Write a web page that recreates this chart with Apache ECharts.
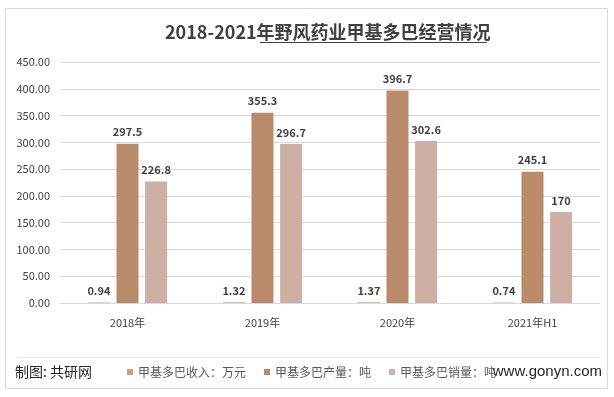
<!DOCTYPE html>
<html>
<head>
<meta charset="utf-8">
<script src="https://cdn.jsdelivr.net/npm/echarts@6/dist/echarts.min.js"></script>
<style>
  html, body { margin: 0; padding: 0; background: #fff; }
  #chart { width: 614px; height: 397px; }
</style>
</head>
<body>
<div id="chart"></div>
<script>
// chart data
var categories = ["2018年", "2019年", "2020年", "2021年H1"];
var seriesNames = ["甲基多巴收入：万元", "甲基多巴产量：吨", "甲基多巴销量：吨"];
var revenue = [0.94, 1.32, 1.37, 0.74];
var output = [297.5, 355.3, 396.7, 245.1];
var sales = [226.8, 296.7, 302.6, 170];
var yTicks = { min: 0, max: 450, interval: 50 };

var fontFamily = "'Microsoft YaHei', 'Noto Sans CJK SC', sans-serif";
var colors = ["#d6a064", "#b98b6a", "#cdafa5"];

var chart = echarts.init(document.getElementById("chart"));

function barSeries(name, data, color) {
  return {
    name: name,
    type: "bar",
    data: data,
    barWidth: 22,
    barGap: "30%",
    itemStyle: { color: color },
    label: {
      show: true,
      position: "top",
      distance: 6,
      fontSize: 11,
      fontWeight: "bold",
      color: "#404040",
      fontFamily: fontFamily
    }
  };
}

var option = {
  backgroundColor: "#fff",
  animation: false,
  textStyle: { fontFamily: fontFamily },
  title: {
    text: "2018-2021年野风药业甲基多巴经营情况",
    left: 160,
    top: 18,
    textStyle: {
      fontSize: 18,
      fontWeight: "bold",
      color: "#404040",
      fontFamily: fontFamily
    }
  },
  grid: { left: 60, right: 14, top: 62, bottom: 94 },
  legend: {
    data: seriesNames,
    left: 122,
    top: 361,
    itemWidth: 6,
    itemHeight: 6,
    itemGap: 18,
    icon: "rect",
    textStyle: { fontSize: 12, color: "#595959", fontFamily: fontFamily }
  },
  xAxis: {
    type: "category",
    data: categories,
    axisLine: { lineStyle: { color: "#d9d9d9" } },
    axisTick: { show: false },
    axisLabel: { margin: 14, fontSize: 11, color: "#404040", fontFamily: fontFamily }
  },
  yAxis: {
    type: "value",
    min: yTicks.min,
    max: yTicks.max,
    interval: yTicks.interval,
    axisLine: { show: false },
    axisTick: { show: false },
    splitLine: { lineStyle: { color: "#d9d9d9" } },
    axisLabel: {
      margin: 10,
      fontSize: 11,
      color: "#404040",
      fontFamily: fontFamily,
      formatter: function (v) { return v.toFixed(2); }
    }
  },
  graphic: [
    {
      type: "rect",
      shape: { x: 5.5, y: 8.5, width: 602, height: 380 },
      style: { fill: null, stroke: "#d9d9d9", lineWidth: 1 },
      silent: true
    },
    {
      type: "line",
      shape: { x1: 17, y1: 357.5, x2: 600, y2: 357.5 },
      style: { stroke: "#e6e6e6", lineWidth: 1 },
      silent: true
    },
    {
      // underline under the linked part of the title
      type: "line",
      shape: { x1: 260, y1: 42.5, x2: 487, y2: 42.5 },
      style: { stroke: "#404040", lineWidth: 1 },
      silent: true
    },
    {
      type: "text",
      left: 15,
      top: 365,
      style: {
        text: "制图: 共研网",
        fontSize: 14,
        fill: "#262626",
        fontFamily: fontFamily
      }
    },
    {
      type: "text",
      right: 12,
      top: 364,
      style: {
        text: "www.gonyn.com",
        fontSize: 15,
        fill: "#262626",
        fontFamily: "'Liberation Sans', Arial, sans-serif"
      }
    }
  ],
  series: [
    barSeries(seriesNames[0], revenue, colors[0]),
    barSeries(seriesNames[1], output, colors[1]),
    barSeries(seriesNames[2], sales, colors[2])
  ]
};

chart.setOption(option);
</script>
</body>
</html>
